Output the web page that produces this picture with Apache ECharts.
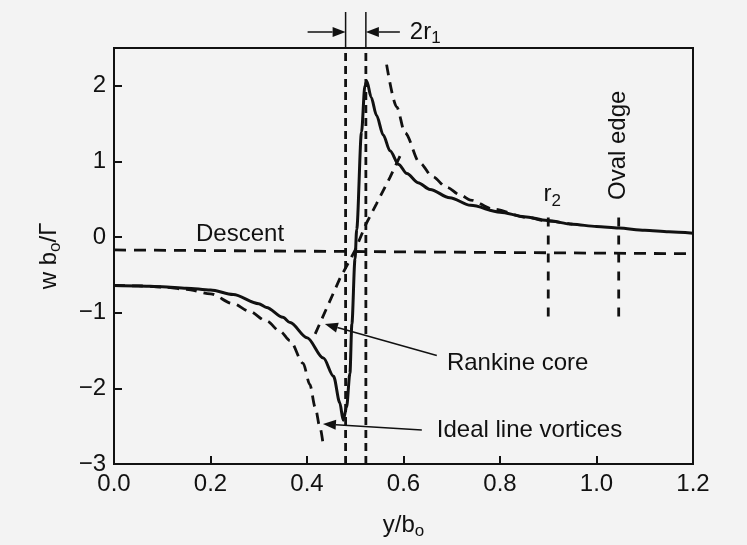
<!DOCTYPE html>
<html>
<head>
<meta charset="utf-8">
<script src="https://cdn.jsdelivr.net/npm/echarts@6/dist/echarts.min.js"></script>
<style>
html, body { margin: 0; padding: 0; background: #f3f3f3; }
#chart { width: 747px; height: 545px; }
</style>
</head>
<body>
<div id="chart"></div>
<script>
// solid curve: wake-vortex induced velocity with Rankine cores
const rankineX = [0, 0.05, 0.1, 0.15, 0.2, 0.247, 0.3, 0.316, 0.35, 0.365, 0.4, 0.434, 0.455, 0.468, 0.475, 0.482, 0.489, 0.493, 0.4995, 0.503, 0.513, 0.52, 0.524, 0.533, 0.544, 0.558, 0.572, 0.59, 0.607, 0.63, 0.655, 0.696, 0.739, 0.8, 0.85, 0.898, 0.95, 1.0, 1.046, 1.1, 1.15, 1.2];
const rankineY = [-0.64, -0.645, -0.655, -0.675, -0.70, -0.76, -0.88, -0.93, -1.06, -1.13, -1.33, -1.6, -1.84, -2.19, -2.42, -2.25, -1.8, -1.15, -0.29, 0.10, 1.39, 2.0, 2.06, 1.85, 1.61, 1.35, 1.14, 0.96, 0.84, 0.72, 0.63, 0.52, 0.42, 0.33, 0.27, 0.22, 0.17, 0.14, 0.12, 0.09, 0.07, 0.05];

// dashed: ideal line vortices (two branches)
const idealLeftX = [0, 0.05, 0.1, 0.15, 0.2, 0.247, 0.28, 0.316, 0.345, 0.365, 0.392, 0.406, 0.417, 0.427, 0.433];
const idealLeftY = [-0.64, -0.645, -0.66, -0.69, -0.75, -0.88, -0.98, -1.11, -1.25, -1.37, -1.67, -1.95, -2.25, -2.52, -2.72];
const idealRightX = [0.565, 0.586, 0.603, 0.634, 0.66, 0.689, 0.717, 0.739, 0.786, 0.856, 0.9, 0.95];
const idealRightY = [2.28, 1.72, 1.38, 0.98, 0.80, 0.66, 0.56, 0.49, 0.37, 0.26, 0.21, 0.17];

// dashed: linear velocity inside the Rankine core
const coreX = [0.417, 0.44, 0.468, 0.5, 0.522, 0.544, 0.572, 0.595];
const coreY = [-1.28, -0.95, -0.55, -0.17, 0.17, 0.44, 0.79, 1.10];

// descent line
const descentX = [0, 1.2];
const descentY = [-0.17, -0.22];

// core edges (2r1) and stations
const coreEdges = [0.48, 0.522];
const stationX = [0.9, 1.046];
const stationNames = ['r2', 'Oval edge'];
const stationRange = [-1.05, 0.36];

const ink = '#111';
const FONT = '"Liberation Sans", Arial, Helvetica, sans-serif';

function pairs(xs, ys) {
  return xs.map((x, i) => [x, ys[i]]);
}

function dashedLine(data, dash, smooth) {
  return {
    type: 'line',
    data: data,
    showSymbol: false,
    smooth: smooth || false,
    smoothMonotone: 'x',
    silent: true,
    lineStyle: { color: ink, width: 2.8, type: dash }
  };
}

const subRich = {
  a: { fontSize: 24, lineHeight: 30, fontFamily: FONT, color: ink },
  s: { fontSize: 17, lineHeight: 16, verticalAlign: 'bottom', fontFamily: FONT, color: ink }
};

const series = [
  {
    type: 'line',
    data: pairs(rankineX, rankineY),
    showSymbol: false,
    smooth: 0.3,
    smoothMonotone: 'x',
    silent: true,
    lineStyle: { color: ink, width: 3 }
  },
  dashedLine(pairs(idealLeftX, idealLeftY), [11, 7], 0.3),
  dashedLine(pairs(idealRightX, idealRightY), [11, 7], 0.3),
  dashedLine(pairs(coreX, coreY), [10, 7]),
  dashedLine(pairs(descentX, descentY), [12, 8])
];
coreEdges.forEach(x => {
  series.push(dashedLine([[x, -3], [x, 2.5]], [8, 5]));
});
stationX.forEach(x => {
  series.push(dashedLine([[x, stationRange[0]], [x, stationRange[1]]], [9, 9]));
});

const chart = echarts.init(document.getElementById('chart'));
chart.setOption({
  animation: false,
  backgroundColor: '#f3f3f3',
  grid: {
    left: 114, right: 54, top: 48, bottom: 72,
    show: true, borderColor: ink, borderWidth: 2
  },
  xAxis: {
    type: 'value',
    min: 0, max: 1.2, interval: 0.2,
    axisLine: { show: true, onZero: false, lineStyle: { color: ink, width: 2 } },
    axisTick: { show: true, inside: true, length: 8, lineStyle: { color: ink, width: 2 } },
    splitLine: { show: false },
    axisLabel: {
      color: ink, fontSize: 24, fontFamily: FONT, margin: 8,
      formatter: v => v.toFixed(1)
    },
    name: '{a|y/b}{s|o}',
    nameLocation: 'middle',
    nameGap: 46,
    nameTextStyle: { rich: subRich }
  },
  yAxis: {
    type: 'value',
    min: -3, max: 2.5, interval: 1,
    axisLine: { show: true, onZero: false, lineStyle: { color: ink, width: 2 } },
    axisTick: { show: true, inside: true, length: 8, lineStyle: { color: ink, width: 2 } },
    splitLine: { show: false },
    axisLabel: {
      color: ink, fontSize: 24, fontFamily: FONT, margin: 8, showMaxLabel: false,
      formatter: v => (v < 0 ? '\u2212' + (-v) : String(v))
    },
    name: '{a|w b}{s|o}{a|/\u0393}',
    nameLocation: 'middle',
    nameRotate: 90,
    nameGap: 50,
    nameTextStyle: { rich: subRich }
  },
  series: series
});

// annotations, placed from data coordinates
const g = [];
const pt = (x, y) => chart.convertToPixel({ gridIndex: 0 }, [x, y]);

function arrow(tail, tip) {
  const dx = tip[0] - tail[0], dy = tip[1] - tail[1];
  const len = Math.hypot(dx, dy);
  const ux = dx / len, uy = dy / len;
  const hl = 13, hw = 5;
  const bx = tip[0] - ux * hl, by = tip[1] - uy * hl;
  g.push({ type: 'line', silent: true, shape: { x1: tail[0], y1: tail[1], x2: bx, y2: by }, style: { stroke: ink, lineWidth: 1.5 } });
  g.push({ type: 'polygon', silent: true, shape: { points: [tip, [bx - uy * hw, by + ux * hw], [bx + uy * hw, by - ux * hw]] }, style: { fill: ink } });
}

const textRich = {
  a: { fontSize: 24, lineHeight: 30, fontFamily: FONT, fill: ink },
  s: { fontSize: 17, lineHeight: 16, verticalAlign: 'bottom', fontFamily: FONT, fill: ink }
};

function label(p, text, align, rotation) {
  g.push({
    type: 'text', silent: true, x: p[0], y: p[1], rotation: rotation || 0,
    style: { text: text, rich: textRich, align: align || 'left', verticalAlign: 'middle', fill: ink, font: '24px ' + FONT }
  });
}

// core edge extensions above the frame, and the 2r1 arrows
const tops = coreEdges.map(x => pt(x, 2.5));
tops.forEach(p => {
  g.push({ type: 'line', silent: true, shape: { x1: p[0], y1: p[1] - 36, x2: p[0], y2: p[1] }, style: { stroke: ink, lineWidth: 1.5 } });
});
const ay = tops[0][1] - 16;
arrow([tops[0][0] - 38, ay], [tops[0][0], ay]);
arrow([tops[1][0] + 34, ay], [tops[1][0], ay]);
label([tops[1][0] + 44, ay], '{a|2r}{s|1}');

// station labels
const r2 = pt(stationX[0], 0.56);
label([r2[0] + 4, r2[1]], '{a|r}{s|2}', 'center');
label(pt(stationX[1], 0.49), '{a|' + stationNames[1] + '}', 'left', Math.PI / 2);

// text labels with leader arrows
label(pt(0.17, 0.04), '{a|Descent}');
arrow(pt(0.669, -1.565), pt(0.437, -1.15));
label(pt(0.69, -1.67), '{a|Rankine core}');
arrow(pt(0.638, -2.55), pt(0.433, -2.47));
label(pt(0.669, -2.55), '{a|Ideal line vortices}');

chart.setOption({ graphic: g });
</script>
</body>
</html>
